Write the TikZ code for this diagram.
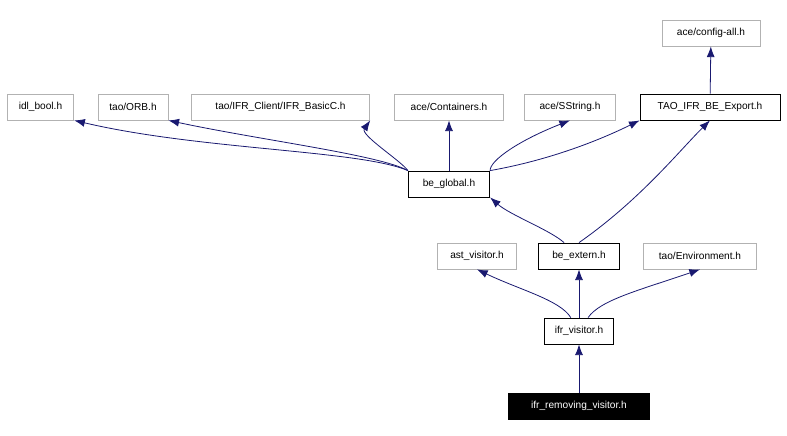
\documentclass[tikz,border=0pt]{standalone}
\usepackage{fontspec}
\setmainfont{Liberation Sans}
\usetikzlibrary{arrows.meta}
\begin{document}
\begin{tikzpicture}[x=0.75pt,y=-0.75pt,
  n/.style={draw=gray!60,line width=0.6pt,fill=white,minimum height=19.5pt,inner sep=0pt,font=\fontsize{7.6}{9}\selectfont},
  nb/.style={n,draw=black},
  e/.style={draw=black!10!blue!45!black,color={rgb,255:red,25;green,25;blue,112},line width=0.6pt,-{Latex[length=8pt,width=6pt]}}]
\useasboundingbox (0,0) rectangle (787,435);
\node[n,minimum width=73.5pt] (cfg) at (711,33) {ace/config-all.h};
\node[n,minimum width=50pt] (idl) at (40.5,107) {idl\_bool.h};
\node[n,minimum width=52.5pt] (orb) at (133,107) {tao/ORB.h};
\node[n,minimum width=134pt] (ifrb) at (280.5,107) {tao/IFR\_Client/IFR\_BasicC.h};
\node[n,minimum width=82pt] (cont) at (449,107) {ace/Containers.h};
\node[n,minimum width=68pt] (sstr) at (570,107) {ace/SString.h};
\node[nb,minimum width=105pt] (exp) at (710,107) {TAO\_IFR\_BE\_Export.h};
\node[nb,minimum width=61pt] (glob) at (449,184) {be\_global.h};
\node[n,minimum width=59pt] (ast) at (477,256) {ast\_visitor.h};
\node[nb,minimum width=61pt] (ext) at (579,256) {be\_extern.h};
\node[n,minimum width=85pt] (env) at (700,256) {tao/Environment.h};
\node[nb,minimum width=52pt] (ifr) at (579,331) {ifr\_visitor.h};
\node[nb,fill=black,text=white,minimum width=106pt] (rem) at (579,406) {ifr\_removing\_visitor.h};
\draw[e] (rem) -- (ifr);
\draw[e] (ifr) .. controls (560,300) and (520,290) .. (ast.south);
\draw[e] (ifr) -- (ext);
\draw[e] (ifr) .. controls (600,300) and (640,290) .. (env.south);
\draw[e] (ext) .. controls (550,230) and (510,215) .. (glob.south east);
\draw[e] (ext.north) .. controls (640,200) and (680,150) .. (exp.south);
\draw[e] (exp) -- (cfg);
\draw[e] (glob.north west) .. controls (360,150) and (200,150) .. (idl.south east);
\draw[e] (glob.north west) .. controls (380,155) and (260,140) .. (orb.south east);
\draw[e] (glob.north west) .. controls (400,160) and (360,135) .. (ifrb.south east);
\draw[e] (glob) -- (cont);
\draw[e] (glob.north east) .. controls (490,160) and (520,140) .. (sstr.south);
\draw[e] (glob.north east) .. controls (550,160) and (600,140) .. (exp.south west);
\end{tikzpicture}
\end{document}
